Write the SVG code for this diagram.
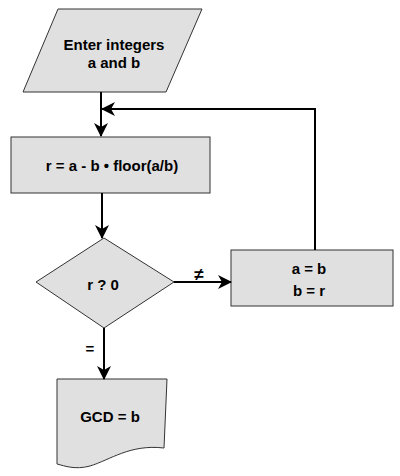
<svg xmlns="http://www.w3.org/2000/svg" width="400" height="476" viewBox="0 0 400 476">
<style>
.shape{fill:#e0e0e0;stroke:#333;stroke-width:1}
.lbl{font-family:"Liberation Sans",Arial,sans-serif;font-weight:bold;font-size:15px;fill:#000;text-anchor:middle}
.conn{fill:none;stroke:#000;stroke-width:2}
</style>
<defs>
<marker id="ah" markerWidth="14" markerHeight="14" refX="13" refY="7" orient="auto" markerUnits="userSpaceOnUse" viewBox="0 0 14 14">
<path d="M0,0 L14,7 L0,14 L4,7 Z" fill="#000"/>
</marker>
</defs>
<rect width="400" height="476" fill="#fff"/>
<g id="input">
<polygon class="shape" points="58,9 202,9 166,92 23,92"/>
<text class="lbl" x="114" y="50">Enter integers</text>
<text class="lbl" x="114" y="68">a and b</text>
</g>
<g id="compute">
<rect class="shape" x="11" y="137" width="199" height="56"/>
<text class="lbl" x="112" y="171">r = a - b • floor(a/b)</text>
</g>
<g id="decision">
<polygon class="shape" points="104,238 174,282 104,328 36,282"/>
<text class="lbl" x="103" y="290">r ? 0</text>
</g>
<g id="swap">
<rect class="shape" x="231" y="250" width="162" height="56"/>
<text class="lbl" x="309" y="274">a = b</text>
<text class="lbl" x="309" y="296">b = r</text>
</g>
<g id="output">
<path class="shape" d="M57,379 L167,379 L164,448 C130,444 110,460 90,466 C75,470 65,466 57,464 Z"/>
<text class="lbl" x="110" y="422">GCD = b</text>
</g>
<g id="connectors">
<line class="conn" x1="101" y1="92" x2="101" y2="136" marker-end="url(#ah)"/>
<polyline class="conn" points="315,250 315,109 102,109" marker-end="url(#ah)"/>
<line class="conn" x1="102" y1="193" x2="102" y2="238" marker-end="url(#ah)"/>
<line class="conn" x1="174" y1="282" x2="231" y2="282" marker-end="url(#ah)"/>
<line class="conn" x1="104" y1="328" x2="104" y2="379" marker-end="url(#ah)"/>
<text class="lbl" x="199" y="280" style="font-size:17px">≠</text>
<text class="lbl" x="90" y="354">=</text>
</g>
</svg>
